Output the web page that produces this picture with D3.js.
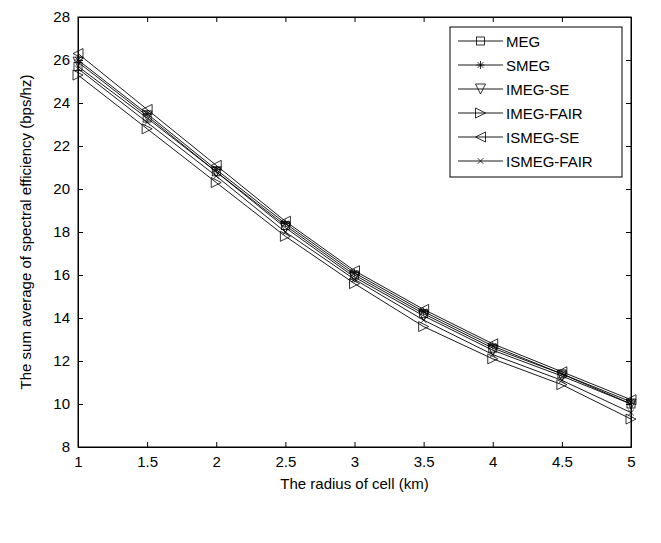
<!DOCTYPE html>
<html><head><meta charset="utf-8">
<script src="https://cdn.jsdelivr.net/npm/d3@7"></script>
<style>body{margin:0;background:#fff}svg{display:block}text{font-family:"Liberation Sans",Arial,sans-serif}</style>
</head><body><svg id="c" width="661" height="543"></svg>
<script>
const radius = [1, 1.5, 2, 2.5, 3, 3.5, 4, 4.5, 5];
const xTicks = [1, 1.5, 2, 2.5, 3, 3.5, 4, 4.5, 5];
const yTicks = [8, 10, 12, 14, 16, 18, 20, 22, 24, 26, 28];
const seriesNames = ["MEG", "SMEG", "IMEG-SE", "IMEG-FAIR", "ISMEG-SE", "ISMEG-FAIR"];
const markers = ["square", "star", "tridown", "triright", "trileft", "cross"];
const MEG        = [25.7, 23.3, 20.8, 18.3, 16.0, 14.2, 12.6, 11.4, 10.0];
const SMEG       = [26.0, 23.5, 20.9, 18.4, 16.1, 14.3, 12.7, 11.4, 10.1];
const IMEG_SE    = [25.9, 23.4, 20.8, 18.2, 15.9, 14.1, 12.5, 11.3, 10.0];
const IMEG_FAIR  = [25.3, 22.8, 20.3, 17.8, 15.6, 13.6, 12.1, 10.9, 9.3];
const ISMEG_SE   = [26.3, 23.7, 21.1, 18.5, 16.2, 14.4, 12.8, 11.5, 10.2];
const ISMEG_FAIR = [25.6, 23.1, 20.6, 18.0, 15.8, 13.9, 12.3, 11.1, 9.6];
const allSeries = [MEG, SMEG, IMEG_SE, IMEG_FAIR, ISMEG_SE, ISMEG_FAIR];

const svg = d3.select("#c");
const L = 78, R = 631, T = 17, B = 447;
const FS = 15;
const x = d3.scaleLinear().domain([1, 5]).range([L, R]);
const y = d3.scaleLinear().domain([8, 28]).range([B, T]);

function drawMarker(g, type, cx, cy) {
  const s = 5;
  const st = {fill: "none", stroke: "#000", "stroke-width": 0.8};
  let el;
  if (type === "square") {
    el = g.append("rect").attr("x", cx - 4).attr("y", cy - 4).attr("width", 8).attr("height", 8);
  } else if (type === "tridown") {
    el = g.append("path").attr("d", `M${cx-s},${cy-s}L${cx+s},${cy-s}L${cx},${cy+s}Z`);
  } else if (type === "triright") {
    el = g.append("path").attr("d", `M${cx-s},${cy-s}L${cx+s},${cy}L${cx-s},${cy+s}Z`);
  } else if (type === "trileft") {
    el = g.append("path").attr("d", `M${cx+s},${cy-s}L${cx-s},${cy}L${cx+s},${cy+s}Z`);
  } else if (type === "star") {
    const a = 4, b = 2.9;
    el = g.append("path").attr("d", `M${cx-a},${cy}L${cx+a},${cy}M${cx},${cy-a}L${cx},${cy+a}M${cx-b},${cy-b}L${cx+b},${cy+b}M${cx-b},${cy+b}L${cx+b},${cy-b}`);
  } else if (type === "cross") {
    const b = 2.8;
    el = g.append("path").attr("d", `M${cx-b},${cy-b}L${cx+b},${cy+b}M${cx-b},${cy+b}L${cx+b},${cy-b}`);
  }
  for (const k in st) el.attr(k, st[k]);
}

// lines and markers
const line = d3.line().x((d, i) => x(radius[i])).y(d => y(d));
allSeries.forEach((vals, si) => {
  const g = svg.append("g");
  g.append("path").datum(vals).attr("d", line).attr("fill", "none").attr("stroke", "#000").attr("stroke-width", 0.9);
  vals.forEach((v, i) => drawMarker(g, markers[si], x(radius[i]), y(v)));
});

// axes with inward ticks (MATLAB style)
const tl = 5;
const axB = svg.append("g").attr("transform", `translate(0,${B})`)
  .call(d3.axisBottom(x).tickValues(xTicks).tickSizeInner(-tl).tickSizeOuter(0).tickPadding(9).tickFormat(d3.format("")));
const axT = svg.append("g").attr("transform", `translate(0,${T})`)
  .call(d3.axisTop(x).tickValues(xTicks).tickSizeInner(-tl).tickSizeOuter(0).tickFormat(""));
const axL = svg.append("g").attr("transform", `translate(${L},0)`)
  .call(d3.axisLeft(y).tickValues(yTicks).tickSizeInner(-tl).tickSizeOuter(0).tickPadding(8).tickFormat(d3.format("")));
const axR = svg.append("g").attr("transform", `translate(${R},0)`)
  .call(d3.axisRight(y).tickValues(yTicks).tickSizeInner(-tl).tickSizeOuter(0).tickFormat(""));
[axB, axT, axL, axR].forEach(a => {
  a.selectAll(".domain").attr("stroke", "#000").attr("stroke-width", 1);
  a.selectAll(".tick line").attr("stroke", "#000");
  a.selectAll("text").attr("font-size", FS).attr("fill", "#000").attr("font-family", "Liberation Sans, Arial, sans-serif");
});
svg.append("rect").attr("x", L).attr("y", T).attr("width", R - L).attr("height", B - T)
  .attr("fill", "none").attr("stroke", "#000").attr("stroke-width", 1);

// axis titles
svg.append("text").attr("x", (L + R) / 2).attr("y", 489).attr("text-anchor", "middle")
  .attr("font-size", FS).text("The radius of cell (km)");
svg.append("text").attr("transform", `translate(31,${(T + B) / 2}) rotate(-90)`).attr("text-anchor", "middle")
  .attr("font-size", FS).text("The sum average of spectral efficiency  (bps/hz)");

// legend
const lg = svg.append("g");
const lx = 450, ly = 27, lw = 172, lh = 150;
lg.append("rect").attr("x", lx).attr("y", ly).attr("width", lw).attr("height", lh)
  .attr("fill", "#fff").attr("stroke", "#000").attr("stroke-width", 1);
seriesNames.forEach((n, i) => {
  const yy = ly + 14 + i * 24;
  lg.append("line").attr("x1", lx + 8).attr("x2", lx + 53).attr("y1", yy).attr("y2", yy)
    .attr("stroke", "#000").attr("stroke-width", 0.9);
  drawMarker(lg, markers[i], lx + 30.5, yy);
  lg.append("text").attr("x", lx + 56).attr("y", yy + 5.5).attr("font-size", FS).text(n);
});
</script></body></html>
